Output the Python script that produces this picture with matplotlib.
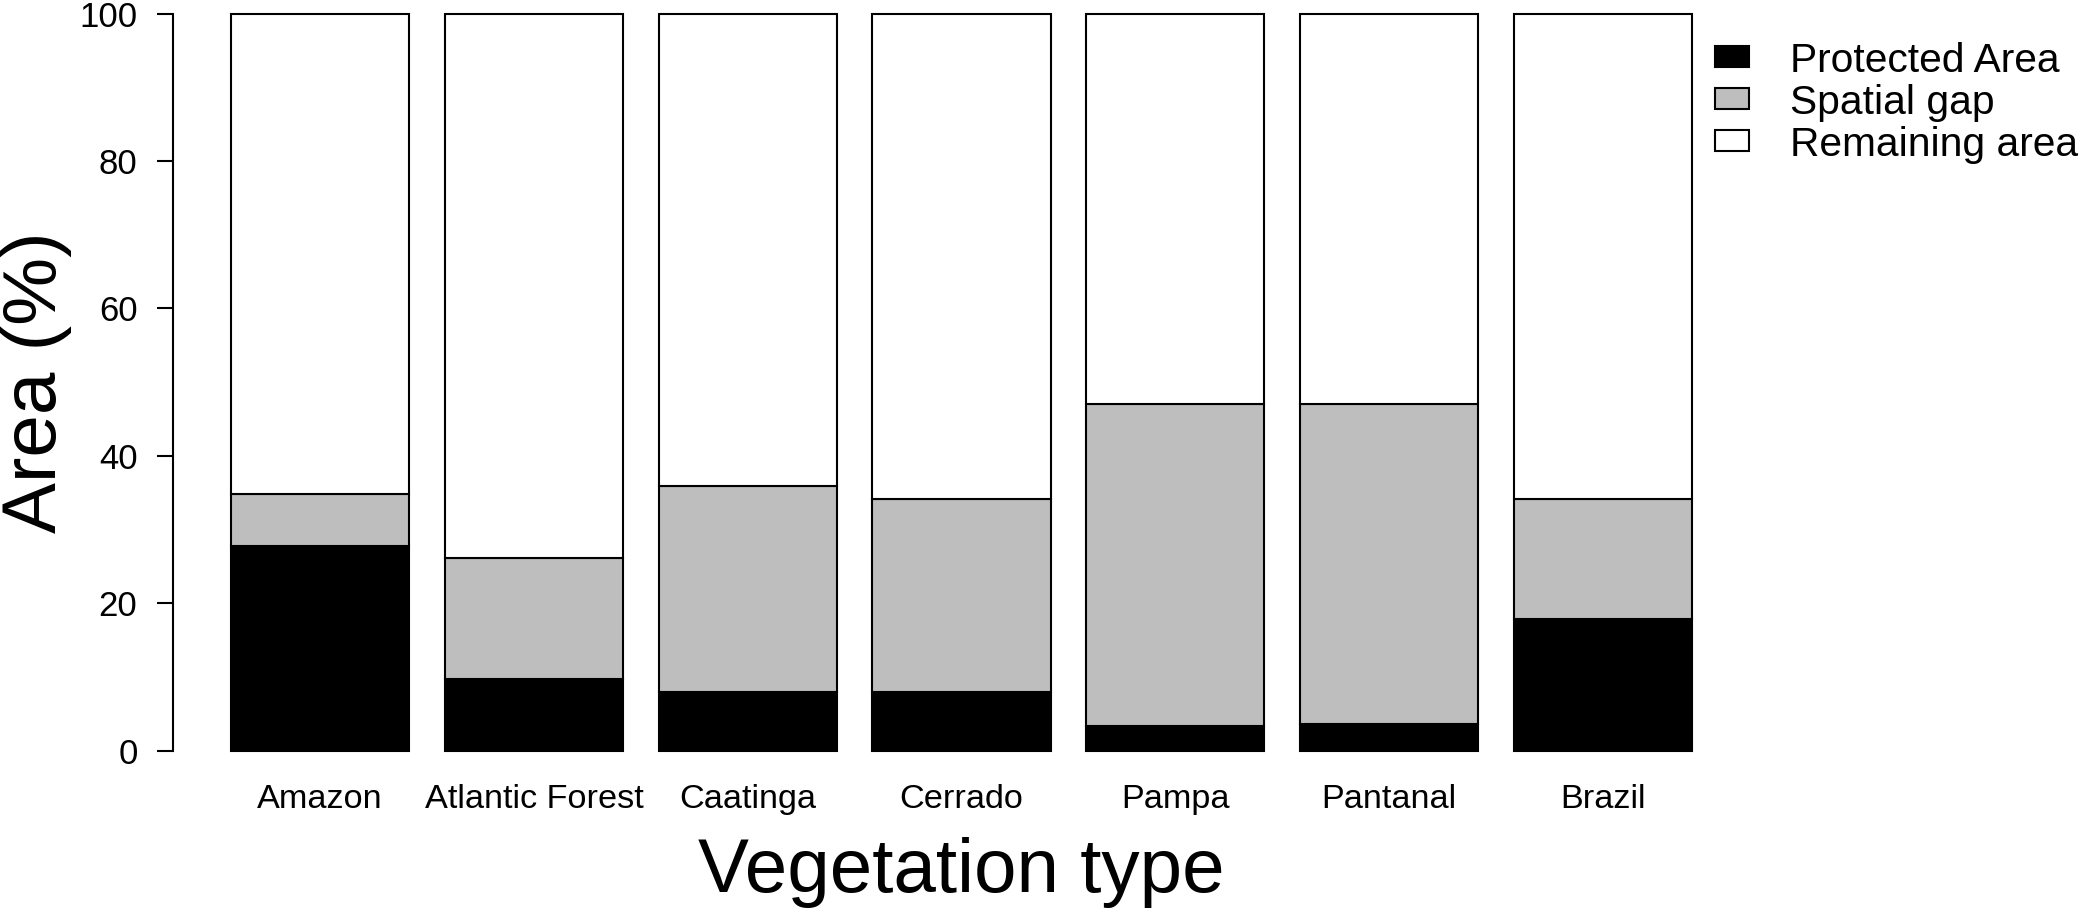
import matplotlib
matplotlib.use("Agg")
import matplotlib.pyplot as plt
from matplotlib.patches import Rectangle
import numpy as np

# ---- data (percent of area) ----
categories = ["Amazon", "Atlantic Forest", "Caatinga", "Cerrado", "Pampa", "Pantanal", "Brazil"]
protected_area = [27.7, 9.7, 7.9, 7.9, 3.3, 3.6, 17.8]
spatial_gap = [7.1, 16.4, 28.0, 26.2, 43.7, 43.4, 16.3]
remaining_area = [65.2, 73.9, 64.1, 65.9, 53.0, 53.0, 65.9]
yticks = [0, 20, 40, 60, 80, 100]
series_labels = ["Protected Area", "Spatial gap", "Remaining area"]
series_colors = ["#000000", "#BEBEBE", "#FFFFFF"]

plt.rcParams['font.family'] = ['Liberation Sans', 'DejaVu Sans']

W, H = 2083, 908
fig = plt.figure(figsize=(W / 100, H / 100), dpi=100)

# axes placement (pixel measurements of the reference)
ax_left, ax_right = 172.5, 1750.6
ax_top, ax_bottom = 13.6, 750.6
ax = fig.add_axes([ax_left / W, 1 - ax_bottom / H, (ax_right - ax_left) / W, (ax_bottom - ax_top) / H])

n = len(categories)
x = 0.7 + 1.2 * np.arange(n)   # R barplot style: space=0.2, width=1
bottoms = np.zeros(n)
for vals, col, lab in zip([protected_area, spatial_gap, remaining_area], series_colors, series_labels):
    bars = ax.bar(x, vals, width=1.0, bottom=bottoms, color=col, edgecolor="black",
                  linewidth=1.5, label=lab, zorder=2)
    for b in bars:
        b.set_clip_on(False)
    bottoms = bottoms + np.array(vals)

ax.set_xlim(0.2 - 0.04 * 8.2, 8.4 + 0.04 * 8.2)
ax.set_ylim(0, 100)

for s in ["top", "right", "bottom"]:
    ax.spines[s].set_visible(False)
ax.spines["left"].set_bounds(0, 100)
ax.spines["left"].set_linewidth(1.5)

ax.set_yticks(yticks)
ax.set_yticklabels([str(v) for v in yticks])
ax.tick_params(axis="y", length=11.5, width=1.5, pad=13.7, labelsize=25)
ax.set_xticks(x)
ax.set_xticklabels(categories)
ax.tick_params(axis="x", length=0, pad=24, labelsize=24.7)

fig.text(961 / W, 16 / H, "Vegetation type", ha="center", va="baseline", fontsize=55)
fig.text(36 / W, 1 - 382 / H, "Area (%)", ha="center", va="center", rotation=90, fontsize=55)

# legend (top right, outside the plot region, no frame)
box_x, box_w, box_h = 1715, 34, 21
text_x = 1790
row0_center, row_step = 56.5, 42
for i, (lab, col) in enumerate(zip(series_labels, series_colors)):
    yc = row0_center + i * row_step
    fig.patches.append(Rectangle((box_x / W, 1 - (yc + box_h / 2) / H), box_w / W, box_h / H,
                                 transform=fig.transFigure, facecolor=col, edgecolor="black",
                                 linewidth=1.5))
    fig.text(text_x / W, 1 - (yc + 15.5) / H, lab, ha="left", va="baseline", fontsize=29.3)

fig.savefig("out.png", dpi=100, facecolor="white")
